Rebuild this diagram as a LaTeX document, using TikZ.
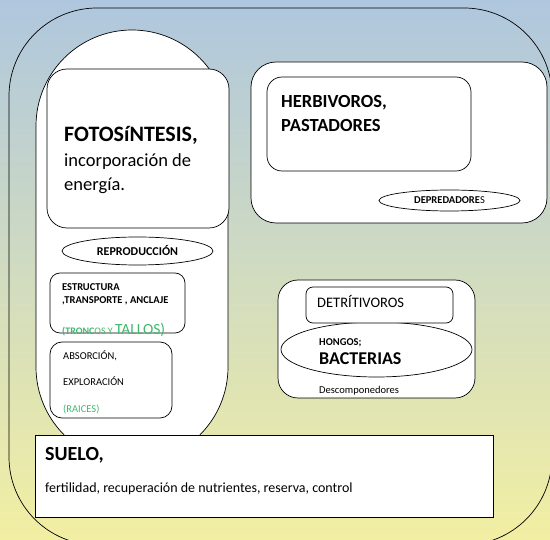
\documentclass[tikz,border=0pt]{standalone}
\usepackage{fontspec}
\setmainfont{Carlito}
\usetikzlibrary{shapes.geometric}
\definecolor{cielo}{RGB}{175,199,222}
\definecolor{medio}{RGB}{212,226,196}
\definecolor{arena}{RGB}{242,239,163}
\definecolor{verde}{RGB}{64,185,110}
\newcommand{\fs}[1]{\fontsize{#1}{#1}\selectfont}
\tikzset{
  caja/.style={draw,fill=white,line width=0.7pt,rounded corners=#1,inner sep=0pt},
  caja/.default=12pt,
  ovalo/.style={draw,fill=white,ellipse,line width=0.7pt,inner sep=0pt},
  txt/.style={anchor=base west,inner sep=0pt,align=left}
}
\begin{document}
\begin{tikzpicture}[x=1pt,y=-1pt]
  \useasboundingbox (0,0) rectangle (550,540);
  \clip (0,0) rectangle (550,540);
  \shade[top color=cielo,middle color=medio,bottom color=arena] (0,0) rectangle (550,540);
  % contorno general
  \draw[line width=0.7pt,rounded corners=88pt] (9,8) rectangle (552,545);
  % planta
  \draw[line width=0.7pt,fill=white,rounded corners=96pt] (36,30) rectangle (228,463);
  \node[caja=20pt,minimum width=182pt,minimum height=159pt] (foto) at (138,148.5) {};
  \node[txt] (fotot) at (64,142) {\fs{22}\bfseries FOTOSíNTESIS,};
  \node[txt] (foto1) at (64,167) {\fs{18.5}incorporación de};
  \node[txt] (foto2) at (64,191) {\fs{18.5}energía.};
  \node[ovalo,minimum width=151pt,minimum height=28pt] (repro) at (137.5,251) {\fs{12}\bfseries REPRODUCCIÓN};
  \node[caja=10pt,minimum width=135pt,minimum height=60pt] (estr) at (117.5,303) {};
  \node[txt] (estr1) at (62,291) {\fs{10.5}\bfseries ESTRUCTURA};
  \node[txt] (estr2) at (62,304) {\fs{10.5}\bfseries ,TRANSPORTE , ANCLAJE};
  \node[txt,text=verde] (estr3) at (62,335) {{\fs{10}\bfseries (TRONC}{\fs{10}OS Y }{\fs{15.5}TALLOS)}};
  \node[caja=12pt,minimum width=122pt,minimum height=76pt] (abs) at (111,380) {};
  \node[txt] (abs1) at (63,360) {\fs{10.5}ABSORCIÓN,};
  \node[txt] (abs2) at (63,386) {\fs{10.5}EXPLORACIÓN};
  \node[txt,text=verde] (abs3) at (63,413) {\fs{10.5}(RAICES)};
  % consumidores
  \node[caja=25pt,minimum width=296pt,minimum height=161pt] (cons) at (399,142.5) {};
  \node[caja=15pt,minimum width=204pt,minimum height=94pt] (herb) at (369,124) {};
  \node[txt] (herb1) at (281,108) {\fs{18.5}\bfseries HERBIVOROS,};
  \node[txt] (herb2) at (281,132) {\fs{18.5}\bfseries PASTADORES};
  \node[ovalo,minimum width=141pt,minimum height=21pt] (depr) at (449.5,200.5) {\fs{10.5}{\bfseries DEPREDADORE}S};
  % descomponedores
  \node[caja=20pt,minimum width=197pt,minimum height=118pt] (desc) at (376.5,339) {};
  \node[ovalo,minimum width=191pt,minimum height=55pt] (hong) at (376.5,349.5) {};
  \node[caja=7pt,minimum width=147pt,minimum height=36pt] (detr) at (379.5,305) {};
  \node[txt] (detr1) at (317,308) {\fs{14.5}DETRÍTIVOROS};
  \node[txt] (hong1) at (319,346) {\fs{10.5}\bfseries HONGOS;};
  \node[txt] (hong2) at (319,365) {\fs{18}\bfseries BACTERIAS};
  \node[txt] (desc1) at (319,394) {\fs{10.5}Descomponedores};
  % suelo
  \node[caja=0pt,minimum width=458pt,minimum height=82pt] (suelo) at (264,476) {};
  \node[txt] (suelo1) at (45,461) {\fs{20}\bfseries SUELO,};
  \node[txt] (suelo2) at (45,493) {\fs{14}fertilidad, recuperación de nutrientes, reserva, control};
\end{tikzpicture}
\end{document}
